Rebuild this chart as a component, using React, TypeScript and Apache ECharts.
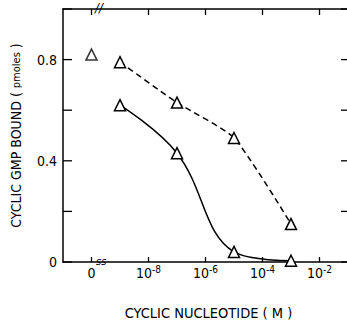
import React, { useEffect, useRef } from "react";
import * as echarts from "echarts";

// x values are log10 of concentration (M); -10 stands for the "0" (no nucleotide) position
const xTickValues = [-10, -8, -6, -4, -2];
const yTickMarks = [0, 0.2, 0.4, 0.6, 0.8, 1.0];
const yTickValues = [0, 0.4, 0.8];
const dashedSeries = [
  [-9, 0.79],
  [-7, 0.63],
  [-5, 0.49],
  [-3, 0.15],
];
const solidSeries = [
  [-9, 0.62],
  [-7, 0.43],
  [-5, 0.04],
  [-3, 0.005],
];
const zeroPoint = [[-10, 0.82]];

const X_MIN = -11;
const X_MAX = -1;
const Y_MIN = 0;
const Y_MAX = 1;

const FONT = "'DejaVu Sans Condensed', 'Liberation Sans Narrow', 'DejaVu Sans', sans-serif";

export default function App() {
  const ref = useRef<HTMLDivElement>(null);
  useEffect(() => {
    if (!ref.current) return;
    const chart = echarts.init(ref.current, null, { renderer: "svg" });
    const mkLine = () => ({ show: true, onZero: false, lineStyle: { color: "#000", width: 1.5 } });
    const mkTriangle = () => ({
      symbol: "triangle",
      symbolSize: 11,
      itemStyle: { color: "#fff", borderColor: "#000", borderWidth: 1.5 },
    });
    const tickStyle = { stroke: "#000", lineWidth: 1.3 };
    chart.setOption({
      animation: false,
      backgroundColor: "#fff",
      grid: { left: 63, top: 9, right: -1, bottom: 62, outerBoundsMode: "none", containLabel: false },
      xAxis: [
        {
          type: "value",
          min: X_MIN,
          max: X_MAX,
          position: "bottom",
          splitLine: { show: false },
          axisLine: mkLine(),
          axisTick: { show: false },
          axisLabel: {
            customValues: xTickValues.slice(),
            margin: 2,
            color: "#000",
            fontFamily: FONT,
            fontSize: 14,
            formatter: (v: number) => (v === -10 ? "{b|0}" : "{b|10}{s|" + v + "}"),
            rich: {
              b: { fontSize: 14, fontFamily: FONT, color: "#000", verticalAlign: "bottom", lineHeight: 16 },
              s: { fontSize: 10, fontFamily: FONT, color: "#000", verticalAlign: "top", lineHeight: 16 },
            },
          },
          name: "CYCLIC NUCLEOTIDE ( M )",
          nameLocation: "middle",
          nameGap: 43,
          nameTextStyle: { color: "#000", fontFamily: FONT, fontSize: 14.5, padding: [0, 0, 0, 6] },
        },
        {
          type: "value",
          min: X_MIN,
          max: X_MAX,
          position: "top",
          splitLine: { show: false },
          axisLine: mkLine(),
          axisTick: { show: false },
          axisLabel: { show: false },
        },
      ],
      yAxis: [
        {
          type: "value",
          min: Y_MIN,
          max: Y_MAX,
          interval: 0.2,
          position: "left",
          splitLine: { show: false },
          axisLine: mkLine(),
          axisTick: { show: false },
          axisLabel: {
            customValues: yTickValues.slice(),
            margin: 6,
            color: "#000",
            fontFamily: FONT,
            fontSize: 14,
            formatter: (v: number) => (v === 0 ? "0" : v.toFixed(1)),
          },
          name: "CYCLIC GMP BOUND ( {s|pmoles} )",
          nameLocation: "middle",
          nameRotate: 90,
          nameGap: 40,
          nameTextStyle: {
            color: "#000",
            fontFamily: FONT,
            fontSize: 14,
            rich: { s: { fontSize: 11, fontFamily: FONT, color: "#000" } },
          },
        },
      ],
      graphic: [
        {
          type: "text",
          x: 95,
          y: 1,
          style: { text: "//", fontSize: 13, fontStyle: "italic", fontFamily: FONT, fill: "#000" },
        },
        {
          type: "text",
          x: 96,
          y: 256,
          style: { text: "ss", fontSize: 11, fontStyle: "italic", fontFamily: FONT, fill: "#000" },
        },
      ],
      series: [
        {
          // inward tick marks on the left and right edges, placed through the axis scale
          type: "custom",
          silent: true,
          clip: false,
          data: yTickMarks.map((v) => [X_MIN, v]),
          renderItem: (_params: any, api: any) => {
            const v = api.value(1);
            const l = api.coord([X_MIN, v]);
            const r = api.coord([X_MAX, v]);
            return {
              type: "group",
              children: [
                { type: "line", shape: { x1: l[0], y1: l[1], x2: l[0] + 9, y2: l[1] }, style: tickStyle },
                { type: "line", shape: { x1: r[0] - 7, y1: r[1], x2: r[0], y2: r[1] }, style: tickStyle },
              ],
            };
          },
          z: 4,
        },
        {
          // inward tick marks on the bottom and top edges
          type: "custom",
          silent: true,
          clip: false,
          data: xTickValues.map((v) => [v, Y_MIN]),
          renderItem: (_params: any, api: any) => {
            const v = api.value(0);
            const b = api.coord([v, Y_MIN]);
            const t = api.coord([v, Y_MAX]);
            return {
              type: "group",
              children: [
                { type: "line", shape: { x1: b[0], y1: b[1], x2: b[0], y2: b[1] - 5 }, style: tickStyle },
                { type: "line", shape: { x1: t[0], y1: t[1], x2: t[0], y2: t[1] + 6 }, style: tickStyle },
              ],
            };
          },
          z: 4,
        },
        {
          type: "line",
          data: dashedSeries,
          smooth: 0.2,
          lineStyle: { color: "#000", width: 1.5, type: [6, 4] },
          ...mkTriangle(),
          z: 3,
        },
        {
          type: "line",
          data: solidSeries,
          smooth: 0.4,
          lineStyle: { color: "#000", width: 1.5 },
          ...mkTriangle(),
          z: 3,
        },
        {
          type: "scatter",
          data: zeroPoint,
          ...mkTriangle(),
          z: 3,
        },
      ],
    });
    return () => chart.dispose();
  }, []);
  return (
    <div
      ref={ref}
      style={{ position: "fixed", left: 0, top: 0, width: 347, height: 324, background: "#fff" }}
    />
  );
}
